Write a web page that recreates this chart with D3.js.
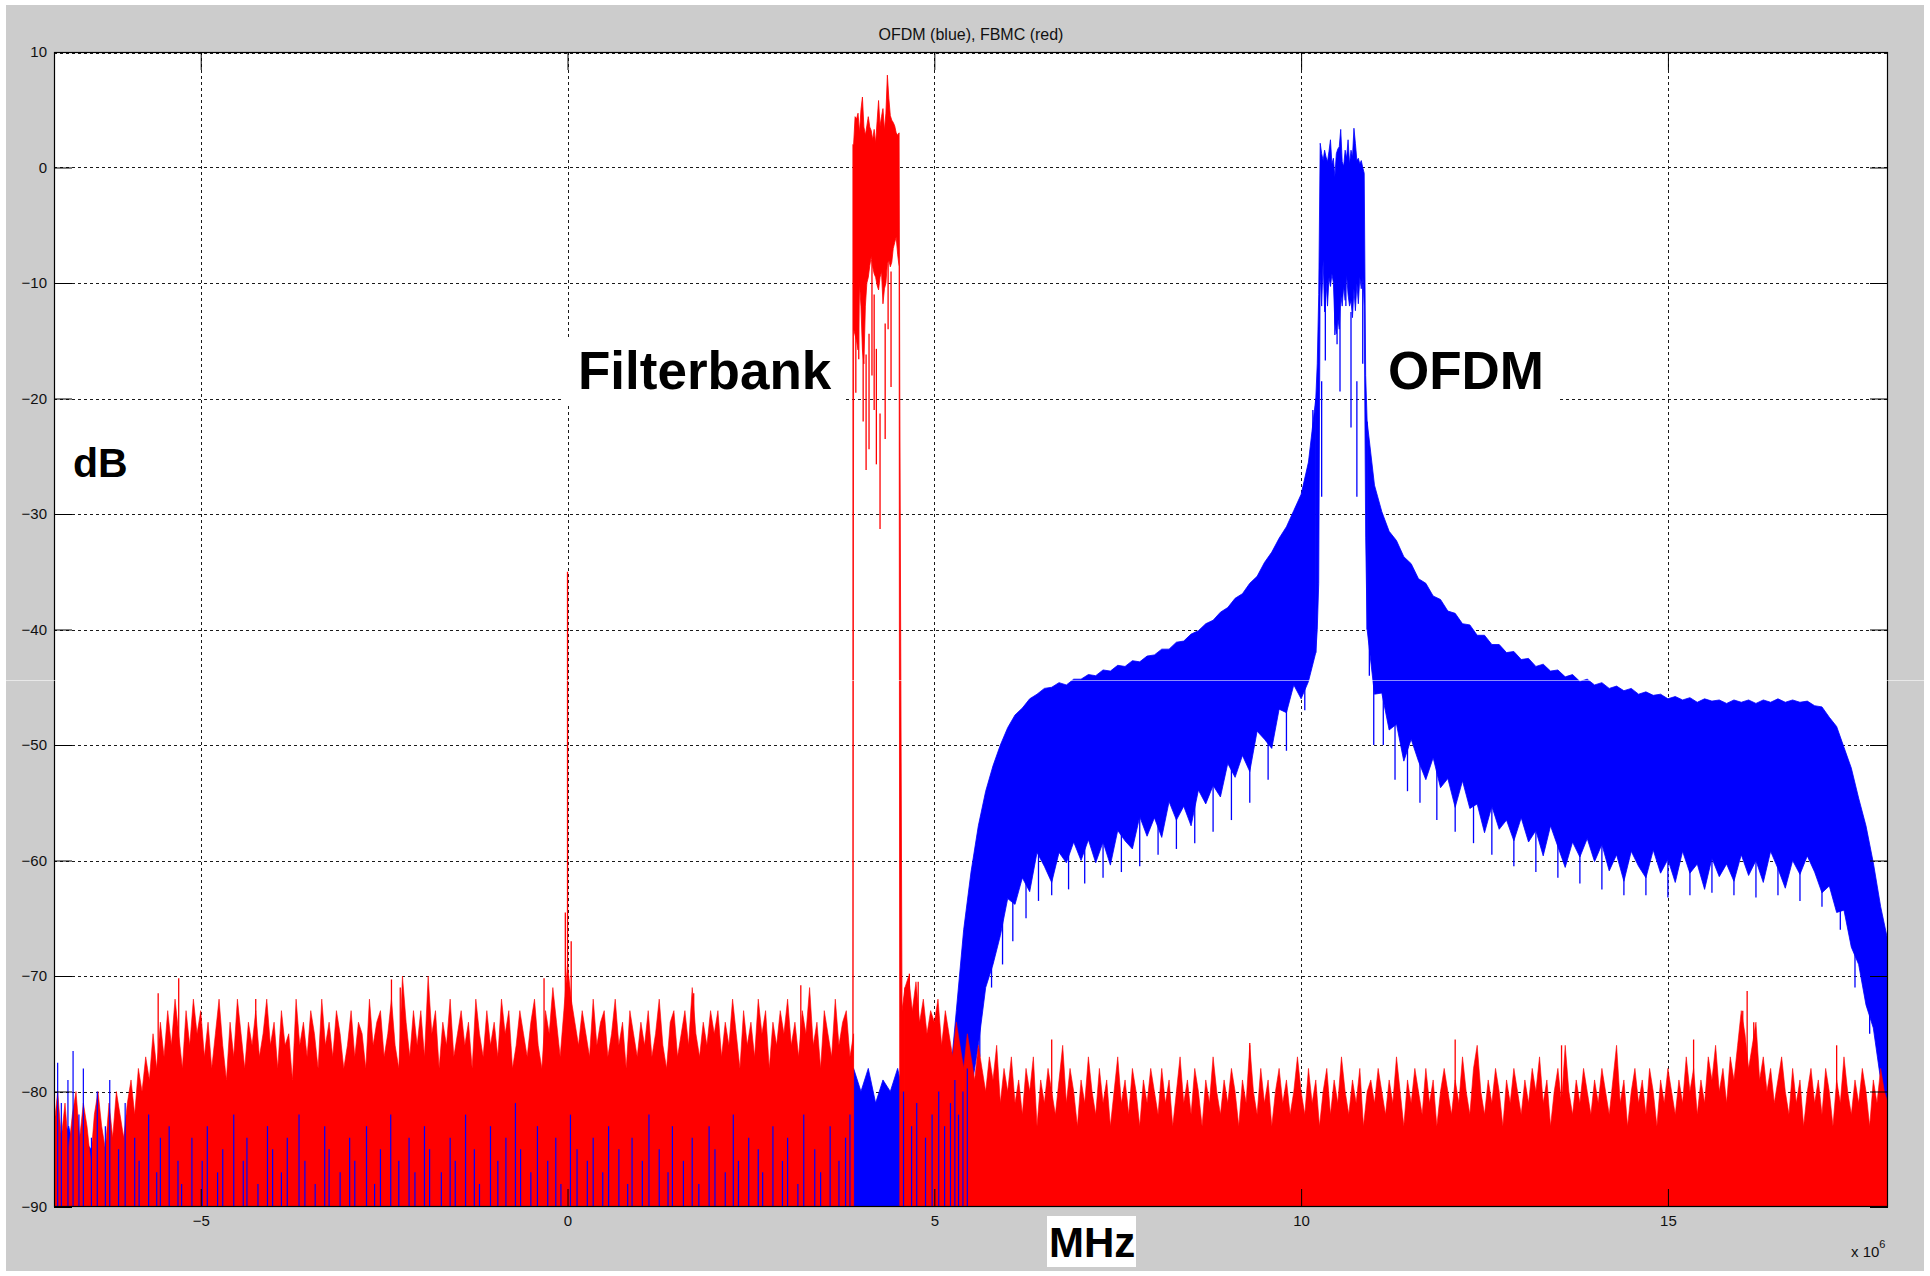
<!DOCTYPE html>
<html>
<head>
<meta charset="utf-8">
<script src="https://cdn.jsdelivr.net/npm/d3@7"></script>
<style>
  body { margin: 0; background: #fff; }
  svg { display: block; }
  text { font-family: "Liberation Sans", Arial, sans-serif; }
</style>
</head>
<body>
<svg id="chart" width="1930" height="1276"></svg>
<script>
// ---------------- DATA ----------------
const title = "OFDM (blue), FBMC (red)";
const xTickValues = [-5, 0, 5, 10, 15];          // MHz (axis shows x 10^6 Hz)
const yTickValues = [10, 0, -10, -20, -30, -40, -50, -60, -70, -80, -90];

// OFDM sampled on a 0.1 MHz grid from -7.0 to 18.0 MHz (251 samples)
const blueStartMHz = -7.0;
const blueStepMHz = 0.1;
// OFDM (blue): upper envelope, dB
const blueTop = [
  -84,-85,-83,-86,-84,-85,-83,-86,-84,-85,
  -84,-86,-83,-85,-84,-86,-85,-84,-86,-85,
  -80,-82,-79,-81,-83,-80,-82,-79,-81,-80,
  -82,-80,-83,-79,-81,-80,-82,-79,-81,-83,
  -80,-82,-79,-81,-80,-83,-79,-82,-80,-81,
  -79,-82,-80,-81,-83,-79,-81,-80,-82,-79,
  -81,-77,-80,-82,-79,-81,-80,-82,-79,-81,
  -80,-82,-79,-81,-83,-80,-82,-79,-81,-80,
  -82,-79,-81,-80,-83,-79,-81,-82,-80,-81,
  -79,-82,-80,-81,-83,-80,-79,-82,-81,-80,
  -82,-79,-81,-80,-82,-79,-81,-80,-79,-78,
  -80,-78,-81,-79,-80,-78,-81,-80,-82,-81,
  -82,-81,-80,-73,-66,-61,-57,-54,-51.8,-50,
  -48.5,-47.4,-46.8,-46,-45.6,-45.1,-45,-44.6,-44.8,-44.3,
  -44.3,-43.9,-44,-43.5,-43.6,-43.1,-43.2,-42.7,-42.8,-42.3,
  -42.2,-41.7,-41.7,-41.1,-41,-40.4,-40.1,-39.5,-39.2,-38.5,
  -38.1,-37.3,-36.9,-36,-35.4,-34.2,-33.3,-32.1,-31.1,-29.7,
  -28.3,-25.5,-20,null,null,null,null,null,null,-22,
  -27.5,-29.8,-31.5,-32.3,-33.7,-34.3,-35.6,-36,-37.1,-37.4,
  -38.4,-38.6,-39.5,-39.6,-40.5,-40.5,-41.3,-41.3,-42,-41.9,
  -42.6,-42.5,-43.2,-43,-43.6,-43.5,-44.1,-43.9,-44.5,-44.3,
  -44.8,-44.6,-45.1,-44.9,-45.3,-45.1,-45.6,-45.4,-45.7,-45.6,
  -46,-45.8,-46.1,-45.9,-46.3,-46,-46.2,-46.1,-46.4,-46.1,
  -46.3,-46.1,-46.4,-46.1,-46.3,-46,-46.3,-46.1,-46.3,-46.2,
  -46.6,-46.7,-47.6,-48.4,-50.2,-52,-54.6,-57,-60.2,-64,
  -67
];
// OFDM (blue): lower envelope, dB (-90 = reaches the bottom of the axes)
const blueBottom = [
  -90,-90,-90,-90,-90,-90,-90,-90,-90,-90,
  -90,-90,-90,-90,-90,-90,-90,-90,-90,-90,
  -90,-90,-90,-90,-90,-90,-90,-90,-90,-90,
  -90,-90,-90,-90,-90,-90,-90,-90,-90,-90,
  -90,-90,-90,-90,-90,-90,-90,-90,-90,-90,
  -90,-90,-90,-90,-90,-90,-90,-90,-90,-90,
  -90,-90,-90,-90,-90,-90,-90,-90,-90,-90,
  -90,-90,-90,-90,-90,-90,-90,-90,-90,-90,
  -90,-90,-90,-90,-90,-90,-90,-90,-90,-90,
  -90,-90,-90,-90,-90,-90,-90,-90,-90,-90,
  -90,-90,-90,-90,-90,-90,-90,-90,-90,-90,
  -90,-90,-90,-90,-90,-90,-90,-90,-90,-90,
  -90,-90,-90,-90,-86,-80,-76,-71,-69,-66.5,
  -63.3,-63.8,-61.5,-62.7,-59.3,-60.5,-61.9,-59.3,-60.2,-58.4,
  -60,-58.2,-60.2,-58.4,-60.4,-57.4,-58.3,-59,-56.2,-57.9,
  -56.3,-58,-54.9,-56.5,-55.3,-57,-53.9,-55.1,-53.5,-54.5,
  -51.6,-52.8,-50.9,-52.3,-48.8,-49.5,-50.3,-46.9,-47.2,-44.8,
  -46,-44.5,-42,null,null,null,null,null,null,-40,
  -45.6,-45.5,-48.7,-48.2,-51.4,-49.5,-51.4,-53,-51.1,-53.7,
  -52.9,-55.4,-53.1,-55.5,-55.1,-57.6,-55.3,-57.3,-56.5,-58.3,
  -56.3,-58.4,-57.4,-59.6,-57,-58.8,-60.6,-58.4,-59.7,-58.1,
  -60.1,-58.6,-60.9,-59.5,-61.8,-59.2,-60.5,-61.5,-59.1,-61.1,
  -59.9,-61.9,-59.2,-61.1,-60.3,-62.5,-59.8,-61.4,-60.3,-61.8,
  -59.5,-61.3,-60,-61.9,-59.2,-60.7,-62.4,-60,-61.2,-59.6,
  -61,-62.8,-62.2,-64.5,-64.3,-67.5,-69,-72.5,-74.5,-79,
  -83
];

// FBMC noise floor sampled on a 0.05 MHz grid from -7.0 to 18.0 MHz (501 samples)
const redStartMHz = -7.0;
const redStepMHz = 0.05;
// FBMC (red): noise-floor upper envelope, dB (null = main band, drawn separately)
const redTop = [
  -83,-80,-84,-81,-85,-82,-80,-84,-81,-83,-86,-82,-80,-83,-85,-81,-84,-80,-82,-84,
  -81,-79,-82,-78,-80,-77,-79,-75,-78,-74,-77,-73,-76,-72,-75,-78,-73,-76,-72,-75,
  -73,-77,-74,-78,-75,-72,-76,-79,-74,-77,-72,-75,-78,-74,-76,-73,-77,-75,-72,-76,
  -74,-78,-73,-76,-75,-79,-72,-76,-74,-77,-73,-75,-78,-72,-76,-74,-77,-73,-75,-78,
  -76,-73,-77,-74,-75,-78,-72,-76,-74,-73,-77,-75,-72,-76,-78,-70,-74,-77,-73,-76,
  -73,-77,-70,-75,-73,-78,-74,-76,-72,-77,-75,-73,-76,-74,-78,-72,-75,-77,-73,-76,
  -74,-77,-72,-75,-73,-78,-76,-73,-75,-77,-74,-72,-76,-78,-73,-75,-71,-74,-77,-73,
  -69,-72,-74,-76,-73,-75,-77,-72,-76,-74,-73,-77,-75,-72,-76,-74,-78,-73,-75,-77,
  -74,-76,-73,-77,-75,-72,-76,-78,-74,-73,-77,-75,-73,-76,-71,-75,-77,-74,-76,-73,
  -75,-73,-77,-74,-76,-72,-75,-78,-73,-76,-74,-77,-72,-75,-73,-78,-74,-76,-73,-75,
  -72,-76,-74,-77,-73,-75,-71,-76,-74,-78,-73,-75,-77,-72,-76,-74,-73,-77,-75,null,
  null,null,null,null,null,null,null,null,null,null,null,null,-71,-70,-73,-70.5,-74,-72,-75,-73,
  -74,-72,-76,-73,-75,-77,-74,-76,-78,-75,-77,-79,-76,-78,-80,-77,-79,-76,-81,-78,
  -80,-77,-81,-79,-82,-78,-80,-77,-83,-79,-81,-78,-80,-82,-79,-76,-81,-78,-80,-83,
  -79,-81,-77,-80,-82,-78,-81,-79,-83,-80,-77,-81,-79,-82,-78,-80,-83,-79,-81,-78,
  -80,-82,-78,-81,-79,-83,-80,-77,-81,-79,-82,-78,-80,-83,-79,-81,-77,-80,-82,-79,
  -81,-78,-80,-83,-79,-81,-76,-80,-82,-78,-81,-79,-83,-80,-78,-81,-79,-82,-80,-77,
  -80,-82,-78,-81,-79,-83,-80,-78,-82,-79,-81,-77,-80,-82,-79,-81,-78,-83,-80,-79,
  -81,-78,-80,-82,-79,-81,-77,-80,-83,-79,-81,-78,-80,-82,-78,-81,-79,-83,-80,-78,
  -80,-82,-79,-81,-77,-80,-82,-78,-76,-80,-82,-79,-81,-78,-80,-83,-79,-81,-78,-80,
  -82,-79,-81,-78,-80,-77,-81,-79,-83,-80,-78,-81,-76,-80,-82,-79,-81,-78,-80,-82,
  -79,-81,-78,-80,-82,-79,-76,-81,-79,-83,-80,-78,-81,-79,-82,-78,-80,-83,-79,-81,
  -78,-80,-82,-79,-81,-77,-80,-78,-82,-79,-81,-77,-79,-76,-80,-78,-81,-77,-79,-76,
  -73,-75,-78,-76,-74,-79,-77,-80,-78,-81,-79,-77,-80,-82,-78,-81,-79,-83,-80,-78,
  -81,-79,-82,-78,-80,-83,-79,-81,-77,-80,-82,-79,-81,-78,-80,-83,-79,-81,-78,-80,
  -81
];

// OFDM main lobe, finer samples
const lobeMHz = [10.2,10.22,10.24,10.26,10.28,10.3,10.32,10.34,10.36,10.38,10.4,10.42,10.44,10.46,10.48,10.5,10.52,10.54,10.56,10.58,10.6,10.62,10.64,10.66,10.68,10.7,10.72,10.74,10.76,10.78,10.8,10.82,10.84,10.86,10.88,10.9];
const lobeTop = [-20,-17,-11,2.1,1.2,0.6,1.5,0.9,0.5,1.4,2.4,0.3,0.8,-0.8,1.2,1.6,1.8,3.3,0.5,0.1,1.5,0.8,2.4,0.3,1.5,0.9,3.4,2.1,0.6,0.8,0.3,0.6,0,-0.5,-18,-22];
const lobeBottom = [-42,-40,-36,-9,-12,-8,-12.5,-10,-12,-9.5,-10.3,-9.2,-10,-13.5,-14.4,-13,-14,-11,-12,-10.3,-11.5,-9.2,-11,-12,-11.5,-13,-10.5,-12.4,-10,-11.8,-9.5,-10.5,-9,-12,-32,-40];

// FBMC main band, finer samples
const bandMHz = [3.89,3.9,3.92,3.94,3.96,3.98,4,4.02,4.04,4.06,4.08,4.1,4.12,4.14,4.16,4.18,4.2,4.22,4.24,4.26,4.28,4.3,4.32,4.34,4.36,4.38,4.4,4.42,4.44,4.46,4.48,4.5,4.52,4.53,4.56,4.6];
const bandTop = [2,2,4.4,4.2,4.7,3,5,6.1,3.5,2.8,3.6,4.4,3.5,3.2,2.4,3.3,2.1,4,5.8,3.6,4.4,5.1,3.2,4.7,8,6,4.5,4.1,3.9,3.6,3,2.8,3,-20,-73,-71];
const bandBottom = [-90,-14,-14.5,-15,-15.8,-10,-12,-15.8,-17,-12,-10,-9.5,-8.5,-7.7,-8.6,-9.2,-9.5,-10.2,-10.6,-9.5,-9,-11.8,-10.5,-10,-8.3,-8,-8.6,-8.2,-7,-6.5,-6,-7.5,-8.6,-90,-90,-90];

// Single deep excursions (thin lines)
const bandDipMHz = [3.93,3.97,4.03,4.07,4.11,4.15,4.18,4.21,4.26,4.33,4.37,4.41];
const bandDipDb  = [-19.5,-16.6,-22,-26.2,-24.4,-18,-21,-25.7,-31.3,-23.5,-14,-19];
const lobeDipMHz = [10.16,10.21,10.28,10.33,10.46,10.49,10.53,10.61,10.68,10.76,10.84,10.93,10.99];
const lobeDipDb  = [-31,-31,-28.5,-16.7,-14.5,-15.3,-19.4,-12,-22.5,-28.5,-17,-44,-50];
const skirtDipMHz = [5.62,5.78,5.93,6.07,6.25,6.42,6.6,6.83,7.05,7.3,7.55,7.8,8.05,8.3,8.55,8.8,9.05,9.3,9.55,9.8,10.05,11.12,11.28,11.45,11.62,11.85,12.1,12.35,12.6,12.9,13.2,13.5,13.8,14.1,14.4,14.7,15,15.3,15.6,15.9,16.2,16.5,16.8,17.1,17.35,17.55,17.75,17.9];
const skirtDipDb  = [-77,-71,-69,-67,-65,-63.5,-63,-62.5,-62,-61.5,-61,-60.5,-59.5,-59,-58.5,-57.5,-56.5,-55,-53,-50.5,-47,-50,-53,-54,-55,-56.5,-57.5,-58.5,-59.5,-60.5,-61,-61.5,-62,-62.5,-63,-63,-63.2,-63,-62.8,-63,-63.2,-63,-63.5,-64,-66,-71,-75,-82];
const redSpikeMHz = [-5.58,-5.3,-4.25,-2.4,-2.28,-0.32,-0.03,0.0,0.05,1.72,3.18,4.66,4.78,6.6,9.3,12.1,13.55,15.35,16.02,16.08,16.17,17.3];
const redSpikeDb  = [-71.5,-70.2,-72,-70.3,-71,-70.2,-64.5,-35,-67,-71.5,-70.8,-69.8,-70.5,-75.5,-75.8,-75.5,-76,-75.5,-73,-71.3,-74,-76];
// OFDM floor lines visible between the FBMC floor lines
const blueStreakMHz = [
  -6.95,-6.9,-6.81,-6.74,-6.66,-6.6,-6.49,-6.41,-6.3,-6.24,
  -6.12,-6.03,-5.9,-5.84,-5.71,-5.6,-5.55,-5.43,-5.31,-5.26,
  -5.12,-4.98,-4.91,-4.77,-4.7,-4.55,-4.42,-4.37,-4.22,-4.09,
  -4.02,-3.9,-3.82,-3.66,-3.58,-3.44,-3.31,-3.25,-3.1,-2.97,
  -2.9,-2.74,-2.63,-2.55,-2.41,-2.3,-2.16,-2.08,-1.95,-1.88,
  -1.72,-1.6,-1.53,-1.39,-1.27,-1.2,-1.05,-0.95,-0.84,-0.71,
  -0.64,-0.5,-0.41,-0.27,-0.16,-0.09,0.04,0.13,0.27,0.35,
  0.48,0.56,0.7,0.82,0.88,1.02,1.11,1.25,1.37,1.43,
  1.58,1.7,1.79,1.93,2.01,2.15,2.26,2.33,2.47,2.6,
  2.66,2.8,2.93,3.0,3.14,3.22,3.37,3.45,3.58,3.7,
  3.79,3.85,4.58,4.69,4.76,4.88,4.97,5.06,5.14,5.22,
  5.28,5.33,5.39,5.45
];
const blueStreakDb = [
  -77.5,-81,-79,-76.5,-82,-78,-84,-80,-83,-79,
  -85,-81,-84,-86,-82,-87,-84,-83,-86,-88,
  -84,-86,-83,-87,-85,-82,-86,-84,-88,-83,
  -85,-87,-84,-82,-86,-88,-83,-85,-87,-84,
  -86,-83,-88,-85,-82,-86,-84,-87,-83,-85,
  -87,-84,-86,-82,-85,-88,-83,-86,-84,-81,
  -85,-87,-83,-86,-84,-88,-82,-85,-86,-84,
  -87,-83,-85,-88,-84,-86,-82,-85,-87,-83,
  -86,-84,-88,-83,-85,-87,-82,-86,-84,-85,
  -87,-83,-86,-84,-88,-82,-85,-87,-83,-86,
  -84,-82,-80,-83,-81,-84,-82,-80,-83,-81,
  -79,-82,-80,-78
];

// ---------------- CHART ----------------
const svg = d3.select("#chart");
const W = 1930, H = 1276;
const plot = { left: 54, right: 1888, top: 52, bottom: 1207 };
const blue = "#0000ff", red = "#ff0000";

const x = d3.scaleLinear().domain([-7, 18]).range([plot.left, plot.right]);
const y = d3.scaleLinear().domain([-90, 10]).range([plot.bottom, plot.top]);

svg.append("rect").attr("width", W).attr("height", H).attr("fill", "#fff");
svg.append("rect").attr("x", 6).attr("y", 5).attr("width", 1918).attr("height", 1266).attr("fill", "#cccccc");
svg.append("rect").attr("x", plot.left).attr("y", plot.top)
  .attr("width", plot.right - plot.left).attr("height", plot.bottom - plot.top).attr("fill", "#fff");

svg.append("defs").append("clipPath").attr("id", "clip")
  .append("rect").attr("x", plot.left).attr("y", plot.top)
  .attr("width", plot.right - plot.left).attr("height", plot.bottom - plot.top);

// grid
const grid = svg.append("g").attr("stroke", "#1a1a1a").attr("stroke-width", 1).attr("stroke-dasharray", "3,3");
grid.selectAll(".gy").data(yTickValues.filter(v => v > -90 && v < 10)).join("line")
  .attr("x1", plot.left).attr("x2", plot.right)
  .attr("y1", d => Math.round(y(d)) + 0.5).attr("y2", d => Math.round(y(d)) + 0.5);
grid.selectAll(".gx").data(xTickValues).join("line")
  .attr("y1", plot.top).attr("y2", plot.bottom)
  .attr("x1", d => Math.round(x(d)) + 0.5).attr("x2", d => Math.round(x(d)) + 0.5);
grid.append("line").attr("x1", plot.left).attr("x2", plot.right)
  .attr("y1", plot.top + 1.5).attr("y2", plot.top + 1.5);

const data = svg.append("g").attr("clip-path", "url(#clip)");

const blueRows = blueTop.map((t, i) => ({ f: blueStartMHz + i * blueStepMHz, top: t, bot: blueBottom[i] }));
const redRows = redTop.map((t, i) => ({ f: redStartMHz + i * redStepMHz, top: t, bot: -90 }));
const lobeRows = lobeMHz.map((f, i) => ({ f, top: lobeTop[i], bot: lobeBottom[i] }));
const bandRows = bandMHz.map((f, i) => ({ f, top: bandTop[i], bot: bandBottom[i] }));

const area = d3.area()
  .defined(d => d.top !== null && d.bot !== null)
  .x(d => x(d.f))
  .y0(d => d.bot <= -90 ? plot.bottom + 2 : y(d.bot))
  .y1(d => y(d.top));

const vline = (g, fs, vs, color, width, toDb) =>
  g.append("g").attr("stroke", color).attr("stroke-width", width)
    .selectAll("line").data(fs.map((f, i) => ({ f, v: vs[i] }))).join("line")
    .attr("x1", d => x(d.f)).attr("x2", d => x(d.f))
    .attr("y1", d => y(d.v)).attr("y2", d => toDb === null ? plot.bottom + 2 : y(d.v + toDb));

// OFDM (drawn first)
data.append("path").datum(blueRows).attr("d", area).attr("fill", blue)
  .attr("stroke", blue).attr("stroke-width", 0.8);
data.append("path").datum(lobeRows).attr("d", area).attr("fill", blue)
  .attr("stroke", blue).attr("stroke-width", 0.8);
vline(data, skirtDipMHz, skirtDipDb, blue, 1.3, 5);
vline(data, lobeDipMHz, lobeDipDb, blue, 1.3, 10);

// FBMC (drawn on top)
data.append("path").datum(redRows).attr("d", area).attr("fill", red)
  .attr("stroke", red).attr("stroke-width", 0.6);
data.append("path").datum(bandRows).attr("d", area).attr("fill", red)
  .attr("stroke", red).attr("stroke-width", 0.8);
vline(data, bandDipMHz, bandDipDb, red, 1.3, 10);
vline(data, redSpikeMHz, redSpikeDb, red, 1.3, null);

// OFDM floor lines visible through the FBMC floor
vline(data, blueStreakMHz, blueStreakDb, blue, 1.2, null);

// axes
const tickFont = 15;
function styleAxis(g) {
  g.select(".domain").remove();
  g.selectAll(".tick line").attr("stroke", "#000");
  g.selectAll(".tick text").attr("fill", "#111").attr("font-size", tickFont)
    .attr("font-family", '"Liberation Sans", Arial, sans-serif');
}
svg.append("g").attr("transform", `translate(${plot.left},0)`)
  .call(d3.axisLeft(y).tickValues(yTickValues).tickFormat(d3.format("d")).tickSize(-18).tickPadding(7))
  .call(styleAxis);
svg.append("g").attr("transform", `translate(${plot.right},0)`)
  .call(d3.axisRight(y).tickValues(yTickValues).tickFormat("").tickSize(-18))
  .call(styleAxis);
svg.append("g").attr("transform", `translate(0,${plot.bottom})`)
  .call(d3.axisBottom(x).tickValues(xTickValues).tickFormat(d3.format("d")).tickSize(-18).tickPadding(8))
  .call(styleAxis);
svg.append("g").attr("transform", `translate(0,${plot.top})`)
  .call(d3.axisTop(x).tickValues(xTickValues).tickFormat("").tickSize(-18))
  .call(styleAxis);

svg.append("rect").attr("x", plot.left + 0.5).attr("y", plot.top + 0.5)
  .attr("width", plot.right - plot.left - 1).attr("height", plot.bottom - plot.top - 1)
  .attr("fill", "none").attr("stroke", "#000").attr("stroke-width", 1.2);

// title
svg.append("text").attr("x", (plot.left + plot.right) / 2).attr("y", 40)
  .attr("text-anchor", "middle").attr("font-size", 16).attr("fill", "#111").text(title);

// exponent
const ex = svg.append("text").attr("x", 1851).attr("y", 1257).attr("font-size", 15).attr("fill", "#111");
ex.append("tspan").text("x 10");
ex.append("tspan").attr("font-size", 11).attr("dy", -9).text("6");

// annotations with white boxes
function label(txt, x0, base, size, box) {
  if (box) svg.append("rect").attr("x", box[0]).attr("y", box[1]).attr("width", box[2]).attr("height", box[3]).attr("fill", "#fff");
  svg.append("text").attr("x", x0).attr("y", base).attr("font-size", size)
    .attr("font-weight", "bold").attr("fill", "#000").text(txt);
}
label("Filterbank", 578, 389, 53, [562, 338, 284, 66]);
label("OFDM", 1388, 389, 53, [1376, 338, 181, 66]);
label("dB", 73, 477, 41, null);
label("MHz", 1049, 1257, 42, [1047, 1216, 89, 51]);

// faint seam line across the picture
svg.append("line").attr("x1", 0).attr("x2", W).attr("y1", 680.5).attr("y2", 680.5)
  .attr("stroke", "#fff").attr("stroke-opacity", 0.55).attr("stroke-width", 1);
</script>
</body>
</html>
